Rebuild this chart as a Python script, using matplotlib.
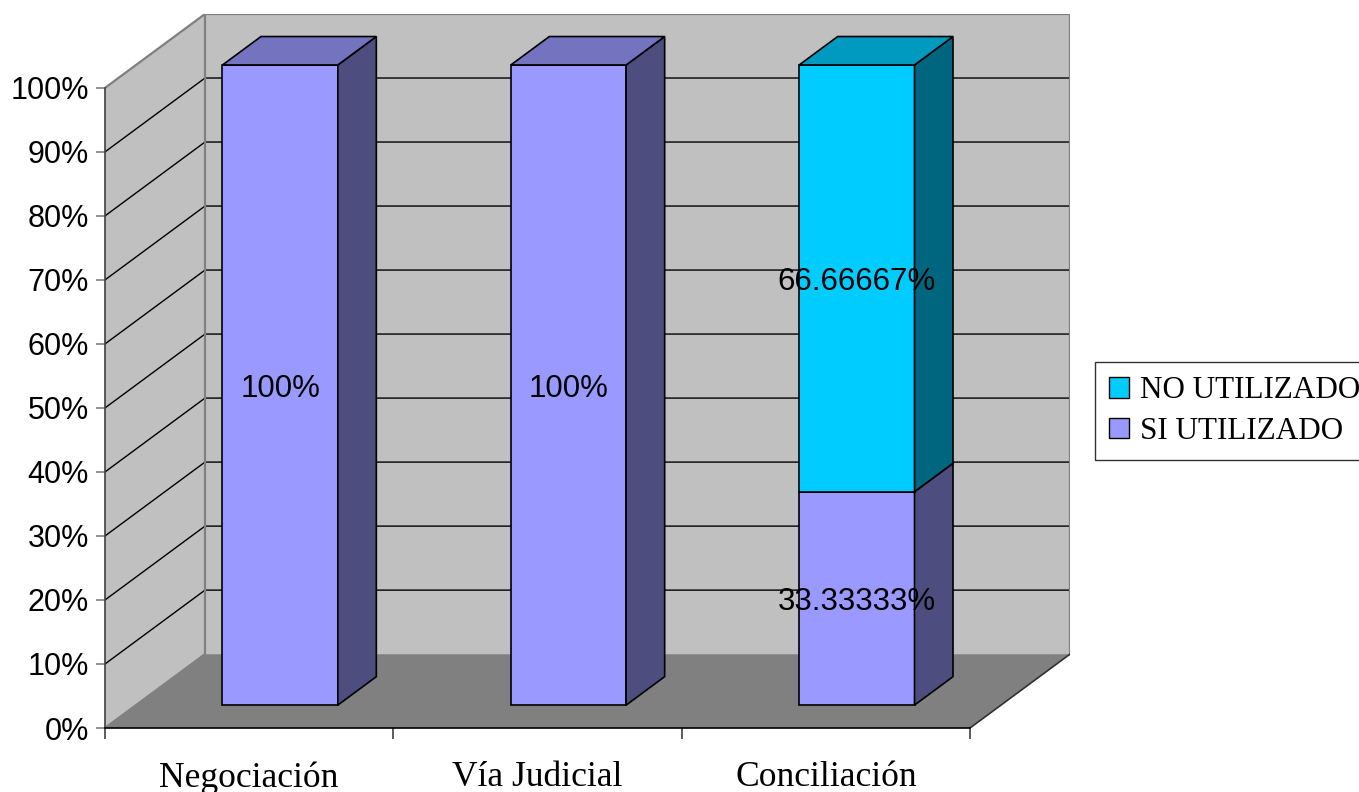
import matplotlib
matplotlib.use("Agg")
import matplotlib.pyplot as plt
from matplotlib.patches import Polygon, Patch
from matplotlib.ticker import FixedLocator, FuncFormatter

# ---- data ----
categories = ["Negociación", "Vía Judicial", "Conciliación"]
si_utilizado = [100, 100, 33.33333]
no_utilizado = [0, 0, 66.66667]
series_names = ["SI UTILIZADO", "NO UTILIZADO"]
y_ticks = list(range(0, 101, 10))

# ---- style ----
front_colors = {"SI UTILIZADO": "#9999FF", "NO UTILIZADO": "#00CCFF"}
side_colors = {"SI UTILIZADO": "#4D4D80", "NO UTILIZADO": "#006680"}
top_colors = {"SI UTILIZADO": "#7373BF", "NO UTILIZADO": "#0099BF"}
WALL = "#C0C0C0"
FLOOR = "#808080"
EDGE_GRAY = "#808080"

SANS = ["Liberation Sans", "DejaVu Sans"]
SERIF = ["Liberation Serif", "DejaVu Serif"]

# oblique depth offset (data units for a full wall depth)
DX = 0.3468
DY = 11.54
BAR_WIDTH = 0.40
D0, D1 = 0.31, 0.695   # front / back depth of the columns


def proj(x, y, d):
    return (x + d * DX, y + d * DY)


fig = plt.figure(figsize=(13.59, 7.92), dpi=100)
fig.patch.set_facecolor("white")
ax = fig.add_axes([105 / 1359, 64 / 792, 965 / 1359, 714 / 792])
ax.set_xlim(-0.5, 2.5 + DX)
ax.set_ylim(0, 100 + DY)
ax.patch.set_visible(False)

x_left, x_right = -0.5, len(categories) - 0.5

# walls and floor
left_wall = Polygon([proj(x_left, 0, 0), proj(x_left, 100, 0),
                     proj(x_left, 100, 1), proj(x_left, 0, 1)],
                    closed=True, facecolor=WALL, edgecolor="none", zorder=0)
back_wall = Polygon([proj(x_left, 0, 1), proj(x_left, 100, 1),
                     proj(x_right, 100, 1), proj(x_right, 0, 1)],
                    closed=True, facecolor=WALL, edgecolor="none", zorder=0)
floor = Polygon([proj(x_left, 0, 0), proj(x_right, 0, 0),
                 proj(x_right, 0, 1), proj(x_left, 0, 1)],
                closed=True, facecolor=FLOOR, edgecolor="none", zorder=0)
for p in (left_wall, back_wall, floor):
    ax.add_patch(p)

# gridlines across the left and back walls
for v in y_ticks[1:-1]:
    pts = [proj(x_left, v, 0), proj(x_left, v, 1), proj(x_right, v, 1)]
    ax.plot([p[0] for p in pts], [p[1] for p in pts], color="black",
            lw=1.0, zorder=1, solid_joinstyle="miter")

# wall outlines
outline = [proj(x_left, 0, 0), proj(x_left, 0, 1), proj(x_left, 100, 1),
           proj(x_right, 100, 1), proj(x_right, 0, 1)]
ax.plot([p[0] for p in outline], [p[1] for p in outline], color=EDGE_GRAY,
        lw=1.6, zorder=1)
top_edge = [proj(x_left, 100, 0), proj(x_left, 100, 1)]
ax.plot([p[0] for p in top_edge], [p[1] for p in top_edge], color=EDGE_GRAY,
        lw=1.6, zorder=1)
floor_right = [proj(x_right, 0, 0), proj(x_right, 0, 1)]
ax.plot([p[0] for p in floor_right], [p[1] for p in floor_right],
        color="#303030", lw=1.2, zorder=1)


def fmt_value(v):
    s = f"{v:.5f}".rstrip("0").rstrip(".")
    return s + "%"


# stacked 3D columns
series_values = {"SI UTILIZADO": si_utilizado, "NO UTILIZADO": no_utilizado}
for i, cat in enumerate(categories):
    x0, x1 = i - BAR_WIDTH / 2, i + BAR_WIDTH / 2
    bottom = 0.0
    segs = [(name, series_values[name][i]) for name in series_names
            if series_values[name][i] > 0]
    for k, (name, val) in enumerate(segs):
        top = bottom + val
        front = Polygon([proj(x0, bottom, D0), proj(x1, bottom, D0),
                         proj(x1, top, D0), proj(x0, top, D0)],
                        closed=True, facecolor=front_colors[name],
                        edgecolor="black", lw=1.2, zorder=3)
        side = Polygon([proj(x1, bottom, D0), proj(x1, bottom, D1),
                        proj(x1, top, D1), proj(x1, top, D0)],
                       closed=True, facecolor=side_colors[name],
                       edgecolor="black", lw=1.2, zorder=3)
        ax.add_patch(front)
        ax.add_patch(side)
        if k == len(segs) - 1:
            lid = Polygon([proj(x0, top, D0), proj(x1, top, D0),
                           proj(x1, top, D1), proj(x0, top, D1)],
                          closed=True, facecolor=top_colors[name],
                          edgecolor="black", lw=1.2, zorder=3)
            ax.add_patch(lid)
        lx, ly = proj(i, bottom + val / 2, D0)
        ax.text(lx, ly, fmt_value(val), ha="center", va="center_baseline",
                fontsize=22.5, family=SANS, color="black", zorder=5)
        bottom = top

# axes: spines and ticks
for s in ("top", "right"):
    ax.spines[s].set_visible(False)
ax.spines["left"].set_bounds(0, 100)
ax.spines["left"].set_color("#404040")
ax.spines["left"].set_linewidth(1.2)
ax.spines["bottom"].set_bounds(x_left, x_right)
ax.spines["bottom"].set_color("black")
ax.spines["bottom"].set_linewidth(1.2)

ax.yaxis.set_major_locator(FixedLocator(y_ticks))
ax.yaxis.set_major_formatter(FuncFormatter(lambda v, p: f"{v:.0f}%"))
ax.tick_params(axis="y", direction="out", length=6.5, width=1.2,
               color=EDGE_GRAY, pad=5, labelsize=22)
for lbl in ax.get_yticklabels():
    lbl.set_family(SANS)

ax.xaxis.set_major_locator(FixedLocator([i - 0.5 for i in range(len(categories) + 1)]))
ax.xaxis.set_major_formatter(FuncFormatter(lambda v, p: ""))
ax.xaxis.set_minor_locator(FixedLocator(list(range(len(categories)))))
ax.xaxis.set_minor_formatter(FuncFormatter(lambda v, p: categories[int(round(v))]))
ax.tick_params(axis="x", which="major", direction="out", length=8, width=1.2,
               color="#404040")
ax.tick_params(axis="x", which="minor", length=0, pad=24, labelsize=25.6)
for lbl in ax.get_xticklabels(minor=True):
    lbl.set_family(SERIF)

# legend
handles = [Patch(facecolor=front_colors[n], edgecolor="black", lw=1.0, label=n)
           for n in reversed(series_names)]
leg = fig.legend(handles=handles, loc="center left",
                 bbox_to_anchor=(1095 / 1359, (792 - 411) / 792),
                 prop={"family": SERIF, "size": 22.4}, frameon=True,
                 fancybox=False, edgecolor="black", handlelength=0.65,
                 handleheight=0.65, handletextpad=0.35, borderpad=0.45,
                 labelspacing=0.38, borderaxespad=0)
leg.get_frame().set_linewidth(1.0)

fig.savefig("out.png", dpi=100)
